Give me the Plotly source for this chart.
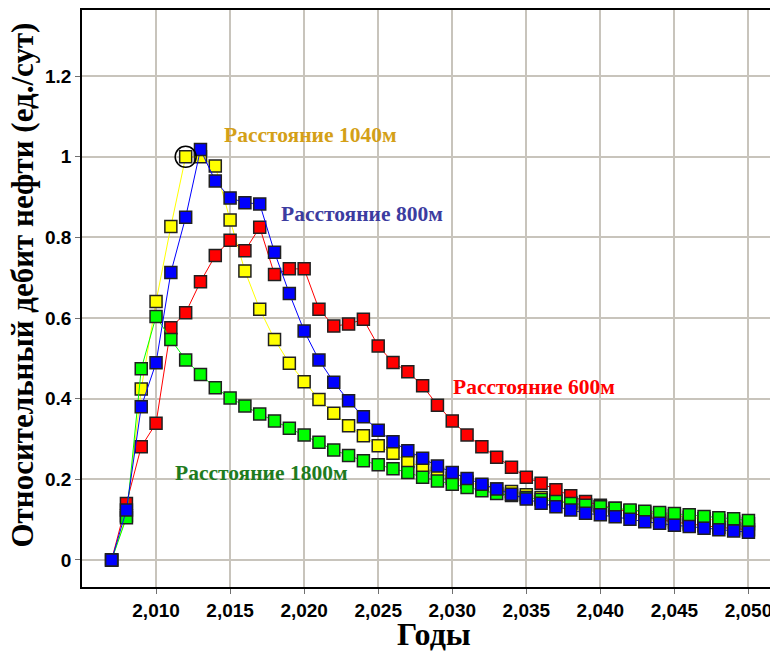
import plotly.graph_objects as go

years = list(range(2007, 2051))

green_1800 = [0, 0.105, 0.474, 0.604, 0.547, 0.496, 0.460, 0.427, 0.402, 0.382, 0.362, 0.345,
              0.327, 0.310, 0.292, 0.273, 0.259, 0.246, 0.236, 0.226, 0.217, 0.205, 0.196, 0.188,
              0.180, 0.172, 0.165, 0.160, 0.155, 0.150, 0.145, 0.140, 0.136, 0.132, 0.128, 0.124,
              0.121, 0.118, 0.115, 0.112, 0.108, 0.105, 0.102, 0.098]

yellow_1040 = [0, 0.110, 0.424, 0.641, 0.827, 1.000, 1.000, 0.977, 0.843, 0.717, 0.622, 0.547,
               0.488, 0.442, 0.398, 0.364, 0.333, 0.308, 0.283, 0.265, 0.244, 0.230, 0.215, 0.203,
               0.193, 0.184, 0.176, 0.170, 0.162, 0.155, 0.148, 0.142, 0.137, 0.132, 0.127, 0.122,
               0.118, 0.114, 0.110, 0.106, 0.102, 0.098, 0.094, 0.090]

blue_800 = [0, 0.124, 0.380, 0.489, 0.713, 0.850, 1.018, 0.940, 0.898, 0.886, 0.883, 0.763,
            0.661, 0.568, 0.496, 0.441, 0.395, 0.355, 0.322, 0.293, 0.271, 0.252, 0.233, 0.217,
            0.202, 0.188, 0.176, 0.163, 0.151, 0.141, 0.132, 0.124, 0.116, 0.112, 0.107, 0.101,
            0.095, 0.091, 0.086, 0.083, 0.079, 0.075, 0.072, 0.069]

red_600 = [0, 0.140, 0.281, 0.339, 0.576, 0.613, 0.690, 0.755, 0.793, 0.767, 0.825, 0.708,
           0.722, 0.722, 0.622, 0.580, 0.585, 0.597, 0.531, 0.490, 0.467, 0.432, 0.384, 0.345,
           0.310, 0.281, 0.255, 0.230, 0.205, 0.190, 0.174, 0.159, 0.145, 0.136, 0.128, 0.118,
           0.108, 0.100, 0.094, 0.089, 0.085, 0.081, 0.078, 0.075]

x_ticks = list(range(2010, 2051, 5))
y_ticks = [0, 0.2, 0.4, 0.6, 0.8, 1, 1.2]
y_tick_labels = ["0", "0.2", "0.4", "0.6", "0.8", "1", "1.2"]

series = [
    ("Расстояние 1040м", yellow_1040, "#FFFF00"),
    ("Расстояние 600м", red_600, "#FF0000"),
    ("Расстояние 1800м", green_1800, "#00FF00"),
    ("Расстояние 800м", blue_800, "#0000FF"),
]

labels = [
    ("Расстояние 1040м", 2014.45, 1.055, "#D4A017"),
    ("Расстояние 800м", 2018.27, 0.859, "#3C3CA0"),
    ("Расстояние 600м", 2029.89, 0.429, "#FF0000"),
    ("Расстояние 1800м", 2011.12, 0.215, "#1E7B1E"),
]

x_title = "Годы"
y_title = "Относительный дебит нефти (ед./сут)"

peak_year = 2012
peak_value = 1.0

fig = go.Figure()
for name, vals, col in series:
    fig.add_trace(go.Scatter(
        x=years, y=vals, mode="lines+markers", name=name,
        line=dict(color=col, width=1),
        marker=dict(symbol="square", size=12, color=col,
                    line=dict(color="#202020", width=1.5)),
    ))

fig.add_trace(go.Scatter(
    x=[peak_year], y=[peak_value], mode="markers",
    marker=dict(symbol="circle-open", size=21, color="#000000", line=dict(width=1.5)),
    showlegend=False,
))

for text, x, y, col in labels:
    fig.add_annotation(x=x, y=y, text=f"<b>{text}</b>", showarrow=False,
                       xanchor="left", yanchor="middle",
                       font=dict(family="Liberation Serif", size=21.5, color=col))

fig.add_annotation(xref="paper", yref="paper", x=0.5014, y=0, yshift=-47,
                   text=f"<b>{x_title}</b>", showarrow=False,
                   xanchor="center", yanchor="middle",
                   font=dict(family="Liberation Serif", size=32, color="black"))
fig.add_annotation(xref="paper", yref="paper", x=0, xshift=-59, y=0.5225,
                   text=f"<b>{y_title}</b>", showarrow=False, textangle=-90,
                   xanchor="center", yanchor="middle",
                   font=dict(family="Liberation Serif", size=31, color="black"))

fig.update_layout(
    width=778, height=653,
    margin=dict(l=74, r=0, t=1, b=74),
    paper_bgcolor="white", plot_bgcolor="white",
    showlegend=False,
)
fig.update_xaxes(
    range=[2005.0, 2052.4],
    tickvals=x_ticks, tickformat=",d",
    ticks="outside", ticklen=5, tickcolor="#707070",
    showgrid=True, gridcolor="#C8C4BC", gridwidth=1.5,
    showline=True, linecolor="black", linewidth=1.5, mirror=True,
    zeroline=False,
    tickfont=dict(family="Liberation Sans", size=19, color="black", weight="bold"),
)
fig.update_yaxes(
    range=[-0.067, 1.364],
    tickvals=y_ticks, ticktext=y_tick_labels,
    ticks="outside", ticklen=5, tickcolor="#707070",
    showgrid=True, gridcolor="#C8C4BC", gridwidth=1.5,
    showline=True, linecolor="black", linewidth=1.5, mirror=True,
    zeroline=False,
    tickfont=dict(family="Liberation Sans", size=19, color="black", weight="bold"),
)

fig.write_html("out.html")
